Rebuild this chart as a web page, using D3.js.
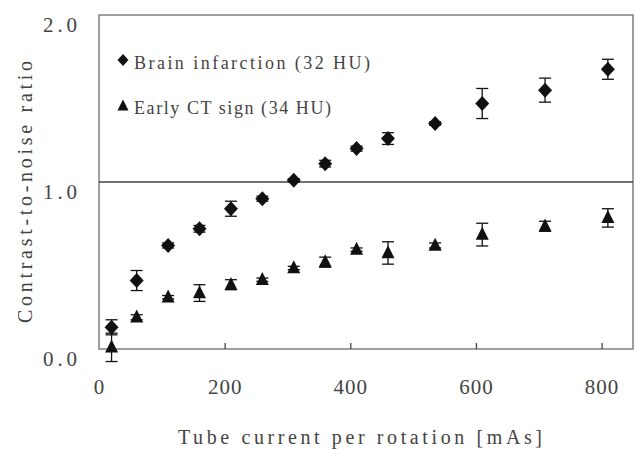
<!DOCTYPE html>
<html><head><meta charset="utf-8">
<script src="https://cdn.jsdelivr.net/npm/d3@7/dist/d3.min.js"></script>
<style>body{margin:0;background:#fff}svg{display:block}</style>
</head><body><svg id="c" width="635" height="451"></svg>
<script>
const xTicks = [0, 200, 400, 600, 800];
const yTicks = [0.0, 1.0, 2.0];
const mAs = [20, 60, 110, 160, 210, 260, 310, 360, 410, 460, 535, 610, 710, 810];
const brainCNR = [0.13, 0.41, 0.62, 0.72, 0.84, 0.90, 1.01, 1.11, 1.20, 1.26, 1.35, 1.47, 1.55, 1.675];
const brainErr = [0.045, 0.06, 0.015, 0.02, 0.045, 0.015, 0.01, 0.02, 0.015, 0.035, 0.01, 0.09, 0.072, 0.06];
const earlyCNR = [0.01, 0.19, 0.31, 0.335, 0.385, 0.415, 0.485, 0.52, 0.595, 0.575, 0.62, 0.685, 0.735, 0.785];
const earlyErr = [0.085, 0.015, 0.01, 0.05, 0.03, 0.01, 0.01, 0.03, 0.01, 0.067, 0.015, 0.068, 0.03, 0.055];
const legendLabels = ["Brain infarction (32 HU)", "Early CT sign (34 HU)"];
const xTitle = "Tube current per rotation [mAs]";
const yTitle = "Contrast-to-noise ratio";

const svg = d3.select("#c");
const L = 99, R = 633, T = 15, B = 349;
const x = d3.scaleLinear().domain([0, 850]).range([L, R]);
const y = d3.scaleLinear().domain([0, 2]).range([B, T]);
const font = "'Liberation Serif', 'DejaVu Serif', serif";
const tcol = "#444";

// frame
svg.append("rect").attr("x", L).attr("y", T).attr("width", R - L).attr("height", B - T)
  .attr("fill", "none").attr("stroke", "#888").attr("stroke-width", 1.6);
// reference line at 1.0
svg.append("line").attr("x1", L).attr("x2", R).attr("y1", y(1)).attr("y2", y(1))
  .attr("stroke", "#444").attr("stroke-width", 1.3);

// x axis ticks (inward) and labels
const xa = svg.append("g").attr("transform", `translate(0,${B})`)
  .call(d3.axisBottom(x).tickValues(xTicks).tickSize(-6).tickPadding(30).tickFormat(d3.format("d")));
xa.select(".domain").remove();
xa.selectAll(".tick line").attr("stroke", "#444").attr("stroke-width", 1.3)
  .filter(d => d === 0).remove();
xa.selectAll(".tick text").attr("font-family", font).attr("font-size", 21).attr("fill", tcol)
  .attr("letter-spacing", 1);

// y axis labels
const ya = svg.append("g").attr("transform", `translate(${L},0)`)
  .call(d3.axisLeft(y).tickValues(yTicks).tickSize(0).tickPadding(22).tickFormat(d3.format(".1f")));
ya.select(".domain").remove();
ya.selectAll(".tick text").attr("font-family", font).attr("font-size", 21).attr("fill", tcol)
  .attr("dy", "0.8em").attr("textLength", 34).attr("lengthAdjust", "spacing");

// titles
svg.append("text").attr("x", 360).attr("y", 444).attr("text-anchor", "middle")
  .attr("font-family", font).attr("font-size", 20).attr("fill", tcol)
  .attr("textLength", 364).attr("lengthAdjust", "spacing").text(xTitle);
svg.append("text").attr("transform", "translate(32,192) rotate(-90)").attr("text-anchor", "middle")
  .attr("font-family", font).attr("font-size", 20).attr("fill", tcol)
  .attr("textLength", 262).attr("lengthAdjust", "spacing").text(yTitle);

function diamondPath(w, h) {
  return `M0,${-h}L${w},0L0,${h}L${-w},0Z`;
}
function trianglePath(w, h) {
  return `M0,${-h * 0.6}L${w},${h * 0.4}L${-w},${h * 0.4}Z`;
}

function series(vals, errs, shape) {
  const g = svg.append("g");
  mAs.forEach((m, i) => {
    const cx = x(m), v = vals[i], e = errs[i];
    const y1 = y(v + e), y2 = y(v - e);
    g.append("line").attr("x1", cx).attr("x2", cx).attr("y1", y1).attr("y2", y2)
      .attr("stroke", "#111").attr("stroke-width", 1.3);
    [y1, y2].forEach(yy => g.append("line").attr("x1", cx - 6).attr("x2", cx + 6)
      .attr("y1", yy).attr("y2", yy).attr("stroke", "#111").attr("stroke-width", 1.3));
    g.append("path").attr("d", shape).attr("transform", `translate(${cx},${y(v)})`)
      .attr("fill", "#111");
  });
}
series(brainCNR, brainErr, diamondPath(7, 7.5));
series(earlyCNR, earlyErr, trianglePath(6.5, 13));

// legend
const lg = svg.append("g");
lg.append("path").attr("d", diamondPath(5.5, 6)).attr("transform", "translate(123,60)").attr("fill", "#111");
lg.append("path").attr("d", trianglePath(5.5, 11)).attr("transform", "translate(123,106)").attr("fill", "#111");
lg.append("text").attr("x", 134).attr("y", 69).attr("font-family", font).attr("font-size", 18).attr("fill", tcol)
  .attr("textLength", 236).attr("lengthAdjust", "spacing").text(legendLabels[0]);
lg.append("text").attr("x", 134).attr("y", 114).attr("font-family", font).attr("font-size", 18).attr("fill", tcol)
  .attr("textLength", 197).attr("lengthAdjust", "spacing").text(legendLabels[1]);
</script></body></html>
